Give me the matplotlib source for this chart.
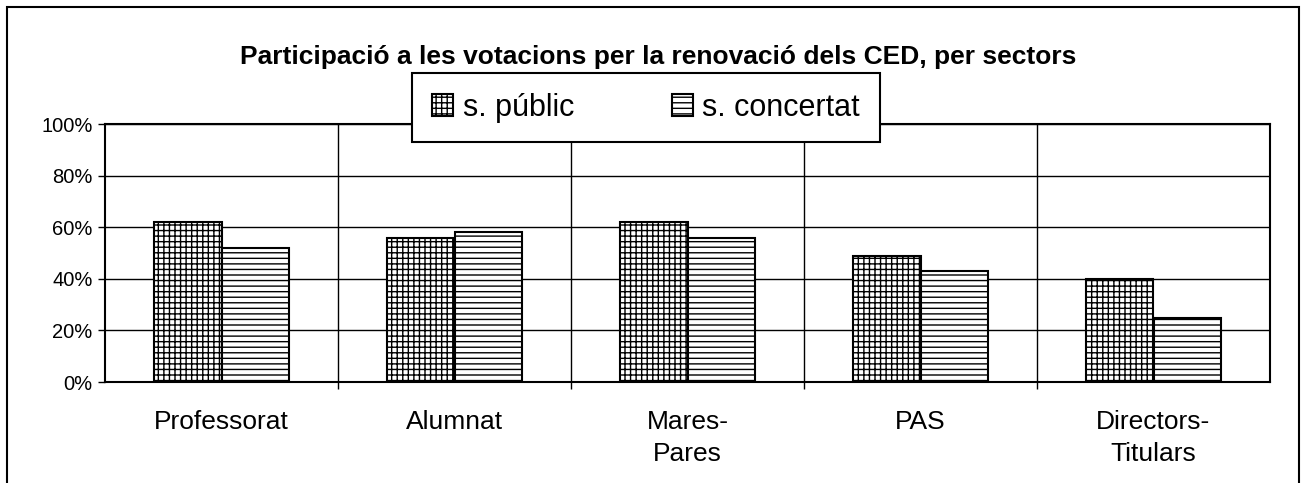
import numpy as np
import matplotlib.pyplot as plt
from matplotlib.patches import Rectangle

plt.rcParams['font.family'] = ['Liberation Sans', 'DejaVu Sans']
plt.rcParams['hatch.linewidth'] = 1.0

# dades
sectors = ['Professorat', 'Alumnat', 'Mares-\nPares', 'PAS', 'Directors-\nTitulars']
public = [62, 56, 62, 49, 40]
concertat = [52, 58, 56, 43, 25]
yticks = [0, 20, 40, 60, 80, 100]

fig = plt.figure(figsize=(13.04, 4.83), dpi=100)
ax = fig.add_axes([105/1304, 1-382/483, 1165/1304, 258/483])

x = np.arange(len(sectors))
w = 0.29
b1 = ax.bar(x - w/2, public, w, color='white', edgecolor='black', hatch='+++', linewidth=1.5, label='s. públic', zorder=3)
b2 = ax.bar(x + w/2, concertat, w, color='white', edgecolor='black', hatch='---', linewidth=1.5, label='s. concertat', zorder=3)

ax.set_xlim(-0.5, len(sectors) - 0.5)
ax.set_ylim(0, 100)
ax.set_yticks(yticks)
ax.set_yticklabels([f'{v}%' for v in yticks], fontsize=14.5)
ax.set_xticks(x)
ax.set_xticklabels(sectors, fontsize=19, linespacing=1.45)
ax.set_xticks(x[:-1] + 0.5, minor=True)
ax.tick_params(axis='x', which='major', length=0, pad=20)
ax.tick_params(axis='x', which='minor', length=5, direction='out', width=1)
ax.tick_params(axis='y', length=5, direction='out', width=1, pad=4)
ax.grid(axis='y', which='major', color='black', linewidth=1)
ax.grid(axis='x', which='minor', color='black', linewidth=1)
ax.set_axisbelow(True)
for s in ax.spines.values():
    s.set_linewidth(1.5)

fig.text(658/1304, 1-57/483, 'Participació a les votacions per la renovació dels CED, per sectors',
         ha='center', va='center', fontsize=19, fontweight='bold')

leg = fig.legend(handles=[b1, b2], loc='center', bbox_to_anchor=(646/1304, 1-107.5/483),
                 ncol=2, fontsize=22, frameon=True, fancybox=False, edgecolor='black',
                 handlelength=0.7, handleheight=0.7, handletextpad=0.3, columnspacing=3.2,
                 borderpad=0.65, framealpha=1)
leg.get_frame().set_linewidth(1.5)

# marc exterior
fig.patches.append(Rectangle((7/1304, -0.1), 1292/1304, 1.1 - 7/483, transform=fig.transFigure,
                             fill=False, edgecolor='black', linewidth=1.5, clip_on=False))

fig.savefig('out.png', dpi=100)
